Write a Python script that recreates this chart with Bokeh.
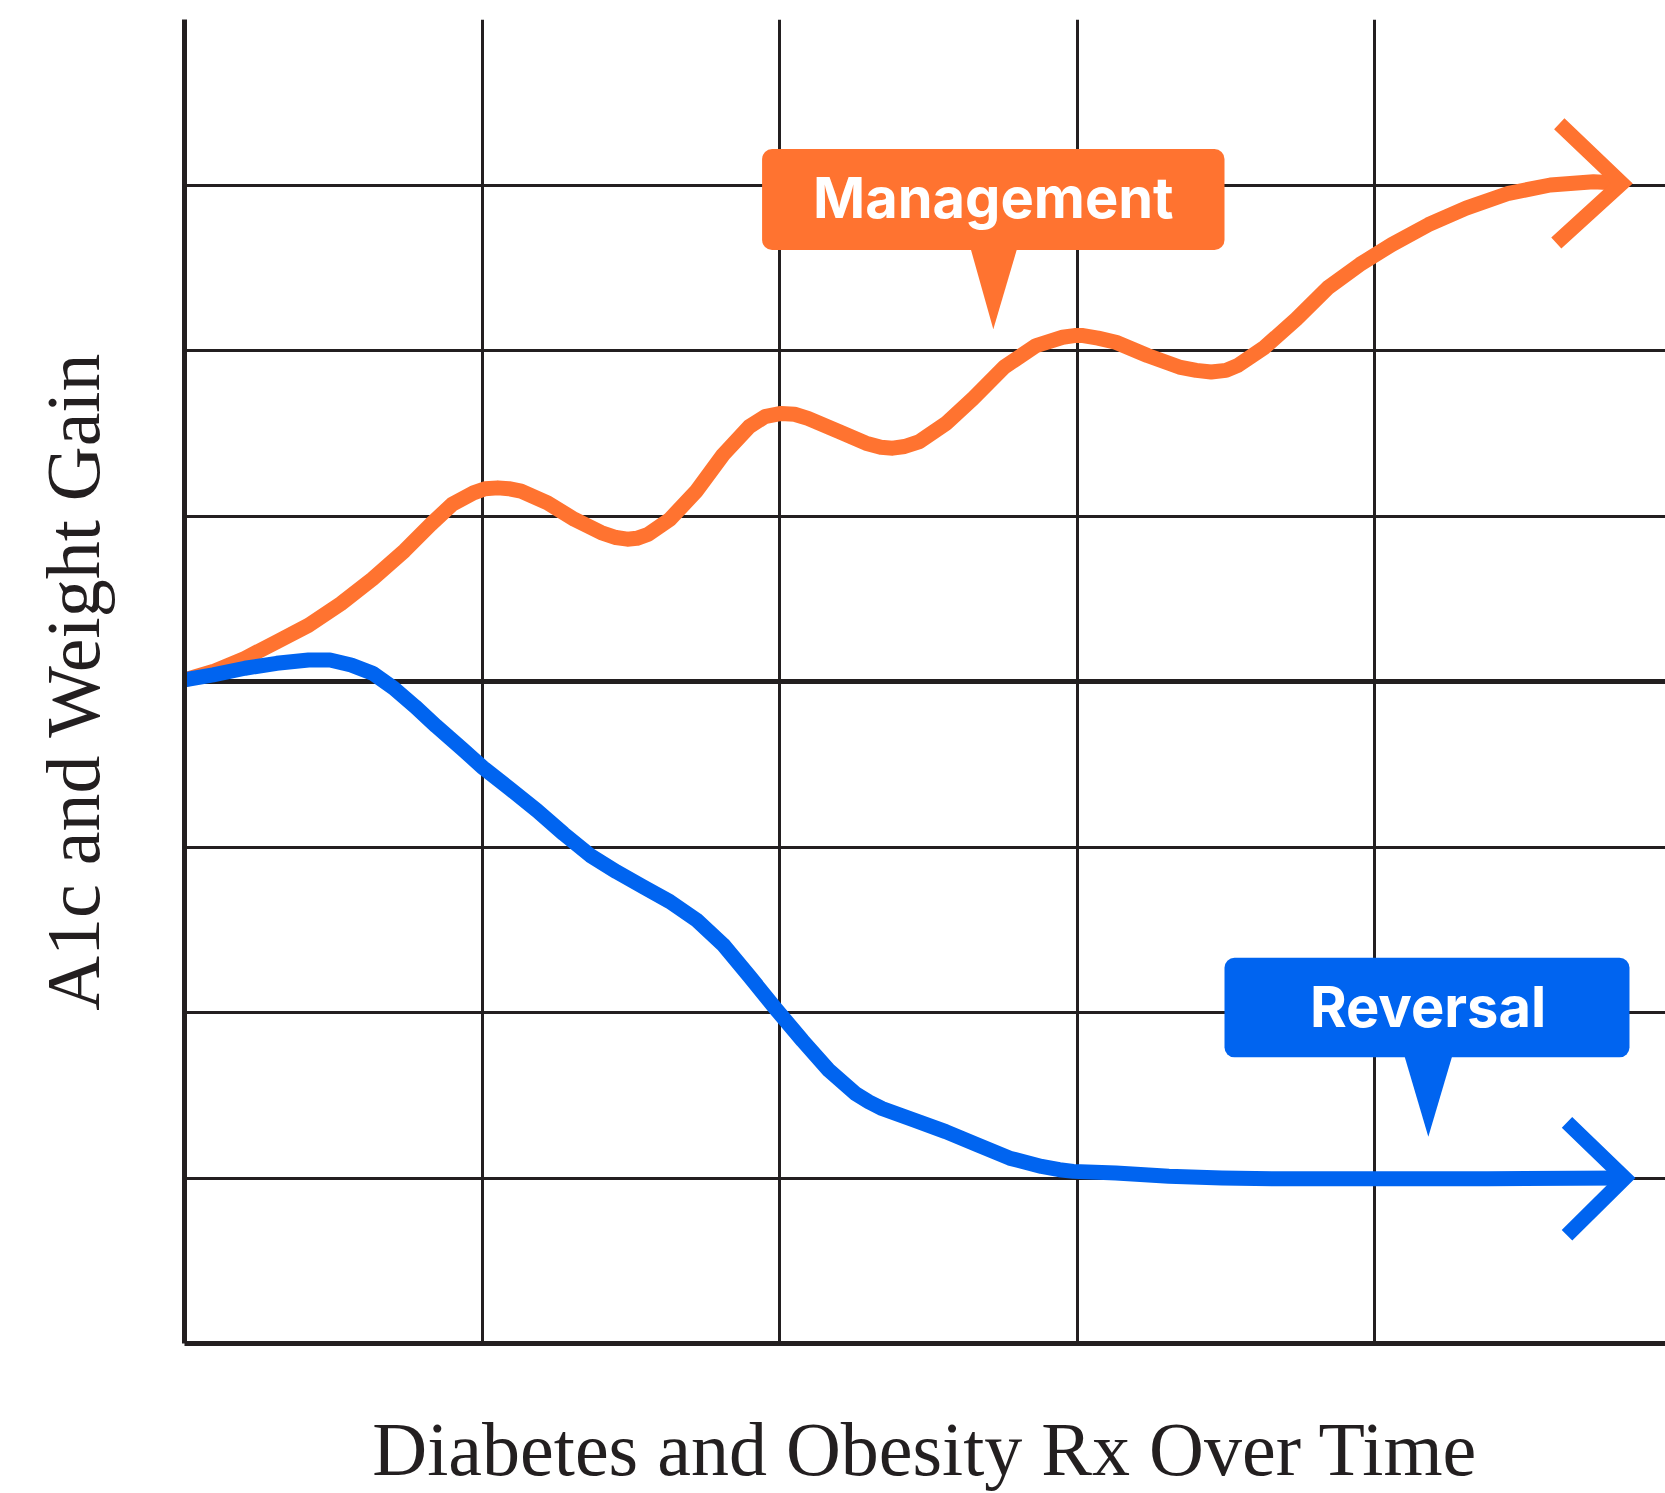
from bokeh.plotting import figure
from bokeh.models import Range1d, FixedTicker, Grid, BoxAnnotation
from bokeh.core.properties import value
from bokeh.embed import file_html
from bokeh.resources import INLINE

# ---------------- data ----------------
mgmt_x = [0.0, 0.096, 0.203, 0.31, 0.417, 0.525, 0.632, 0.739, 0.828, 0.899, 0.971, 1.01,
          1.053, 1.09, 1.131, 1.22, 1.31, 1.40, 1.45, 1.488, 1.52, 1.559, 1.631, 1.72,
          1.81, 1.898, 1.95, 2.005, 2.05, 2.095, 2.20, 2.29, 2.34, 2.38, 2.42, 2.47, 2.56,
          2.65, 2.755, 2.862, 2.951, 2.99, 3.02, 3.07, 3.13, 3.236, 3.343, 3.40, 3.45,
          3.50, 3.54, 3.63, 3.736, 3.843, 3.95, 4.057, 4.18, 4.307, 4.45, 4.59, 4.735,
          4.83]
mgmt_y = [4.01, 4.06, 4.14, 4.24, 4.34, 4.47, 4.62, 4.79, 4.95, 5.07, 5.14, 5.165,
          5.17, 5.165, 5.15, 5.08, 4.98, 4.90, 4.87, 4.86, 4.865, 4.89, 4.98, 5.15,
          5.37, 5.54, 5.60, 5.62, 5.615, 5.59, 5.51, 5.44, 5.415, 5.41, 5.42, 5.45, 5.56,
          5.71, 5.90, 6.03, 6.08, 6.09, 6.09, 6.075, 6.05, 5.97, 5.90, 5.88, 5.87,
          5.88, 5.91, 6.02, 6.19, 6.38, 6.52, 6.64, 6.76, 6.86, 6.95, 7.00, 7.02,
          7.01]

rev_x = [0.0, 0.096, 0.203, 0.31, 0.417, 0.489, 0.56, 0.632, 0.703, 0.774, 0.846, 0.935,
         1.003, 1.095, 1.185, 1.274, 1.363, 1.452, 1.541, 1.631, 1.72, 1.81, 1.898,
         1.988, 2.077, 2.166, 2.255, 2.30, 2.344, 2.451, 2.558, 2.665, 2.773, 2.88,
         2.94, 2.987, 3.13, 3.308, 3.486, 3.665, 4.02, 4.38, 4.84]
rev_y = [4.01, 4.04, 4.08, 4.11, 4.13, 4.13, 4.10, 4.05, 3.96, 3.85, 3.73, 3.59,
         3.48, 3.35, 3.22, 3.08, 2.95, 2.85, 2.76, 2.67, 2.56, 2.41, 2.22,
         2.02, 1.83, 1.65, 1.51, 1.46, 1.42, 1.35, 1.28, 1.20, 1.12, 1.07,
         1.05, 1.04, 1.03, 1.01, 1.00, 0.995, 0.995, 0.995, 1.0]

# arrow heads (arm end, tip, arm end)
mgmt_head_x = [4.62, 4.83, 4.61]
mgmt_head_y = [7.37, 7.01, 6.65]
rev_head_x = [4.646, 4.84, 4.646]
rev_head_y = [1.336, 1.00, 0.654]

# callouts
labels = ["Management", "Reversal"]
label_x = [2.718, 4.179]
label_y = [6.923, 2.033]
box_left = [1.941, 3.495]
box_right = [3.495, 4.856]
box_top = [7.217, 2.331]
box_bottom = [6.607, 1.729]
ptr_xs = [[2.638, 2.718, 2.802], [4.096, 4.180, 4.264]]
ptr_ys = [[6.64, 6.128, 6.64], [1.76, 1.249, 1.76]]

x_grid_ticks = [1, 2, 3, 4]
y_grid_ticks = [1, 2, 3, 4, 5, 6, 7]
baseline_tick = [4]

x_title = "Diabetes and Obesity Rx Over Time"
y_title = "A1c and Weight Gain"

# ---------------- style ----------------
ORANGE = "#FF7330"
BLUE = "#0064F0"
INK = "#231F20"
colors = [ORANGE, BLUE]

p = figure(width=1665, height=1493,
           x_range=Range1d(0, 4.977), y_range=Range1d(0, 8),
           output_backend="svg", toolbar_location=None,
           min_border_left=184, min_border_right=0,
           min_border_top=19, min_border_bottom=144)
p.outline_line_color = None
p.background_fill_color = "white"
p.border_fill_color = "white"

for ax in (p.xaxis[0], p.yaxis[0]):
    ax.axis_line_width = 5
    ax.axis_line_color = INK
    ax.major_tick_line_color = None
    ax.minor_tick_line_color = None
    ax.major_tick_out = 0
    ax.major_tick_in = 0
    ax.minor_tick_out = 0
    ax.major_label_text_font_size = "0px"
    ax.major_label_text_color = None
    ax.major_label_standoff = 0
    ax.axis_label_text_font = "Liberation Serif"
    ax.axis_label_text_font_size = "76px"
    ax.axis_label_text_font_style = "normal"
    ax.axis_label_text_color = INK

p.xaxis.ticker = FixedTicker(ticks=x_grid_ticks)
p.yaxis.ticker = FixedTicker(ticks=y_grid_ticks)
p.xaxis.axis_label = x_title
p.yaxis.axis_label = y_title
p.xaxis.axis_label_standoff = 63
p.yaxis.axis_label_standoff = 70

p.xgrid.grid_line_color = INK
p.xgrid.grid_line_width = 3
p.ygrid.grid_line_color = INK
p.ygrid.grid_line_width = 3

base_grid = Grid(dimension=1, ticker=FixedTicker(ticks=baseline_tick),
                 grid_line_color=INK, grid_line_width=5)
p.add_layout(base_grid, "center")

# curves
p.line(mgmt_x, mgmt_y, line_color=ORANGE, line_width=15, line_join="round")
p.line(rev_x, rev_y, line_color=BLUE, line_width=15, line_join="round")
p.line(mgmt_head_x, mgmt_head_y, line_color=ORANGE, line_width=15, line_join="miter")
p.line(rev_head_x, rev_head_y, line_color=BLUE, line_width=15, line_join="miter")

# callout boxes
for i in range(len(labels)):
    p.add_layout(BoxAnnotation(left=box_left[i], right=box_right[i],
                               top=box_top[i], bottom=box_bottom[i],
                               fill_color=colors[i], fill_alpha=1.0,
                               line_color=None, border_radius=10))
p.patches(ptr_xs, ptr_ys, fill_color=colors, line_color=None)

t = p.text(x=label_x, y=label_y, text=labels, text_font=value("Inter"),
           text_font_style="bold", text_font_size="56px", text_color="white",
           text_align="center", text_baseline="alphabetic")
t.level = "overlay"

open("out.html", "w").write(file_html(p, INLINE))
